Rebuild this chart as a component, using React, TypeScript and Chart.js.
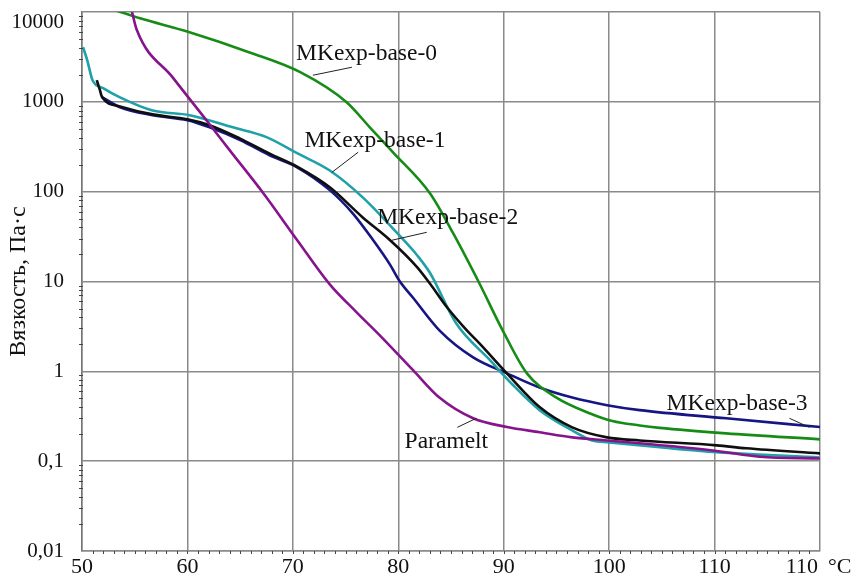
import React, { useEffect, useRef } from "react";
import { Chart, registerables } from "chart.js";

Chart.register(...registerables);

// ---- axis ticks ----
const xTickValues = [50, 60, 70, 80, 90, 100, 110, 120];
const xTickLabels = ["50", "60", "70", "80", "90", "100", "110", "110"];
const yTickValues = [0.01, 0.1, 1, 10, 100, 1000, 10000];
const yTickLabels = ["0,01", "0,1", "1", "10", "100", "1000", "10000"];
const xUnit = "°C";
const yTitle = "Вязкость, Па·с";

// ---- series (temperature °C, viscosity Pa·s) ----
const base0T = [53.1, 55.5, 60.2, 65.9, 70.7, 75.1, 77.3, 79.5, 83.0, 85.2, 87.7, 89.9, 92.2, 95.0, 98.2, 100.3, 102.9, 104.8, 111.1, 120];
const base0V = [10500, 8510, 5960, 3550, 2140, 990, 520, 274, 96, 34.5, 9.5, 2.86, 0.95, 0.51, 0.34, 0.28, 0.25, 0.235, 0.204, 0.175];

const base1T = [50.1, 50.5, 51.0, 52.0, 53.6, 56.7, 60.2, 64.3, 67.5, 70.4, 73.5, 76.6, 79.9, 81.8, 83.0, 85.5, 88.7, 90.9, 93.4, 96.5, 98.4, 100, 104.8, 110.2, 120];
const base1V = [4050, 2900, 1740, 1420, 1120, 800, 710, 520, 405, 268, 172, 87, 34.5, 19.5, 12.5, 3.4, 1.33, 0.7, 0.37, 0.22, 0.17, 0.162, 0.143, 0.126, 0.11];

const base2T = [51.4, 51.7, 51.9, 53.6, 56.7, 60.0, 62.1, 65.0, 67.8, 70.4, 73.5, 76.6, 79.2, 81.8, 83.0, 84.6, 86.5, 87.7, 90.3, 93.4, 96.5, 99.8, 102.9, 110.2, 113.0, 120];
const base2V = [1740, 1350, 1130, 890, 725, 640, 550, 390, 265, 190, 112, 52, 29, 14.4, 9.5, 5.2, 2.86, 2.05, 0.95, 0.4, 0.238, 0.184, 0.17, 0.15, 0.139, 0.122];

const base3T = [51.9, 53.6, 56.7, 60.0, 62.1, 65.0, 67.8, 70.4, 73.5, 75.7, 77.6, 79.2, 80.1, 81.4, 83.9, 87.1, 90.3, 93.4, 96.5, 99.8, 102.9, 111.1, 120];
const base3V = [1130, 870, 710, 624, 520, 375, 254, 187, 104, 57, 29, 15.5, 10.2, 6.6, 2.86, 1.43, 0.95, 0.66, 0.51, 0.42, 0.37, 0.3, 0.24];

const parameltT = [54.7, 55.2, 58.6, 61.8, 64.0, 67.2, 70.4, 73.5, 76.0, 78.2, 81.4, 83.9, 87.1, 90.3, 93.4, 96.5, 99.8, 102.9, 110.2, 114.3, 120];
const parameltV = [10500, 6300, 1870, 624, 290, 96, 29, 9.3, 4.6, 2.55, 1.03, 0.51, 0.3, 0.24, 0.21, 0.184, 0.17, 0.158, 0.13, 0.112, 0.107];

// ---- curve labels: text anchor and leader line, in data coordinates ----
const labelTexts = ["MKexp-base-0", "MKexp-base-1", "MKexp-base-2", "MKexp-base-3", "Paramelt"];
const labelAnchors = [[70.3, 2900], [71.1, 312], [78.0, 43.4], [105.45, 0.368], [80.6, 0.139]];
const leaderStarts = [[75.6, 2427], [76.2, 275], [82.7, 35.3], [117.1, 0.3], [85.6, 0.238]];
const leaderEnds = [[71.9, 1977], [73.7, 164], [79.4, 28.8], [119.0, 0.238], [87.4, 0.3]];

const SERIF = "'Liberation Serif', 'Times New Roman', serif";

function pts(t: number[], v: number[]) {
  return t.map((x, i) => ({ x, y: v[i] }));
}

const extrasPlugin = {
  id: "extras",
  afterDatasetsDraw(chart: any) {
    const { ctx, chartArea, scales } = chart;
    const xs = scales.x;
    const ys = scales.y;
    ctx.save();
    // minor ticks y
    ctx.strokeStyle = "#444";
    ctx.lineWidth = 1;
    for (let d = 0.01; d < 10000; d *= 10) {
      for (let k = 2; k <= 9; k++) {
        const y = Math.round(ys.getPixelForValue(k * d)) + 0.5;
        ctx.beginPath();
        ctx.moveTo(chartArea.left - 3, y);
        ctx.lineTo(chartArea.left + 1, y);
        ctx.stroke();
      }
    }
    // minor ticks x
    for (let t = 51; t < 120; t++) {
      const x = Math.round(xs.getPixelForValue(t)) + 0.5;
      ctx.beginPath();
      ctx.moveTo(x, chartArea.bottom);
      ctx.lineTo(x, chartArea.bottom + 3);
      ctx.stroke();
    }
    // curve labels
    ctx.font = "23.5px " + SERIF;
    ctx.fillStyle = "#111";
    ctx.textAlign = "left";
    ctx.textBaseline = "alphabetic";
    ctx.strokeStyle = "#222";
    ctx.lineWidth = 1;
    labelTexts.forEach((txt, i) => {
      const s = leaderStarts[i];
      const e = leaderEnds[i];
      ctx.beginPath();
      ctx.moveTo(xs.getPixelForValue(s[0]), ys.getPixelForValue(s[1]));
      ctx.lineTo(xs.getPixelForValue(e[0]), ys.getPixelForValue(e[1]));
      ctx.stroke();
      const a = labelAnchors[i];
      ctx.fillText(txt, xs.getPixelForValue(a[0]), ys.getPixelForValue(a[1]));
    });
    // top y tick label (kept inside the top edge)
    ctx.font = "21px " + SERIF;
    ctx.textAlign = "right";
    ctx.textBaseline = "middle";
    const topY = ys.getPixelForValue(yTickValues[yTickValues.length - 1]);
    ctx.fillText(yTickLabels[yTickLabels.length - 1], chartArea.left - 18, topY + 10);
    // last x tick label (right-aligned to the edge) and unit
    ctx.font = "22px " + SERIF;
    ctx.textBaseline = "top";
    ctx.textAlign = "right";
    const lastX = xs.getPixelForValue(xTickValues[xTickValues.length - 1]);
    ctx.fillText(xTickLabels[xTickLabels.length - 1], lastX - 2, chartArea.bottom + 5);
    ctx.textAlign = "left";
    ctx.fillText(xUnit, lastX + 8, chartArea.bottom + 5);
    ctx.restore();
  },
};

export default function App() {
  const ref = useRef<HTMLCanvasElement | null>(null);
  useEffect(() => {
    if (!ref.current) return;
    const mk = (label: string, t: number[], v: number[], color: string) => ({
      label,
      data: pts(t, v),
      borderColor: color,
      backgroundColor: color,
      borderWidth: 2.6,
      pointRadius: 0,
      fill: false,
      cubicInterpolationMode: "monotone" as const,
    });
    const chart = new Chart(ref.current, {
      type: "line",
      data: {
        datasets: [
          mk("Paramelt", parameltT, parameltV, "rgb(135,20,140)"),
          mk("MKexp-base-2", base2T, base2V, "rgb(15,15,15)"),
          mk("MKexp-base-0", base0T, base0V, "rgb(22,140,22)"),
          mk("MKexp-base-1", base1T, base1V, "rgb(32,160,168)"),
          mk("MKexp-base-3", base3T, base3V, "rgb(22,22,130)"),
        ],
      },
      options: {
        animation: false,
        responsive: true,
        maintainAspectRatio: false,
        layout: { padding: { top: 12, right: 38, left: 0, bottom: 0 } },
        plugins: { legend: { display: false }, tooltip: { enabled: false } },
        scales: {
          x: {
            type: "linear",
            min: 50,
            max: 120,
            afterBuildTicks: (s: any) => {
              s.ticks = xTickValues.map((v) => ({ value: v }));
            },
            afterFit: (s: any) => {
              s.height = 26;
              s.paddingLeft = 0;
              s.paddingRight = 0;
            },
            ticks: {
              padding: 3,
              color: "#111",
              font: { family: SERIF, size: 22 },
              maxRotation: 0,
              autoSkip: false,
              callback: (_v: any, i: number) => (i === xTickLabels.length - 1 ? "" : xTickLabels[i]),
            },
            grid: { color: "#8a8a8a", lineWidth: 1.5, drawTicks: false },
            border: { display: true, color: "#8a8a8a", width: 1.5 },
          },
          y: {
            type: "logarithmic",
            min: 0.01,
            max: 10000,
            afterBuildTicks: (s: any) => {
              s.ticks = yTickValues.map((v) => ({ value: v, major: true }));
            },
            afterFit: (s: any) => {
              s.width = 82;
              s.paddingTop = 0;
              s.paddingBottom = 0;
            },
            ticks: {
              padding: 18,
              color: "#111",
              font: { family: SERIF, size: 21 },
              autoSkip: false,
              callback: (_v: any, i: number) => (i === yTickLabels.length - 1 ? "" : yTickLabels[i]),
            },
            grid: { color: "#8a8a8a", lineWidth: 1.5, drawTicks: false },
            border: { display: true, color: "#777", width: 1.5 },
            title: {
              display: true,
              text: yTitle,
              color: "#111",
              font: { family: SERIF, size: 24 },
              padding: { top: 4, bottom: 0 },
            },
          },
        },
      },
      plugins: [extrasPlugin],
    });
    return () => chart.destroy();
  }, []);
  return (
    <div style={{ position: "fixed", left: 0, top: 0, width: 858, height: 577, background: "#fff" }}>
      <canvas ref={ref} />
    </div>
  );
}
